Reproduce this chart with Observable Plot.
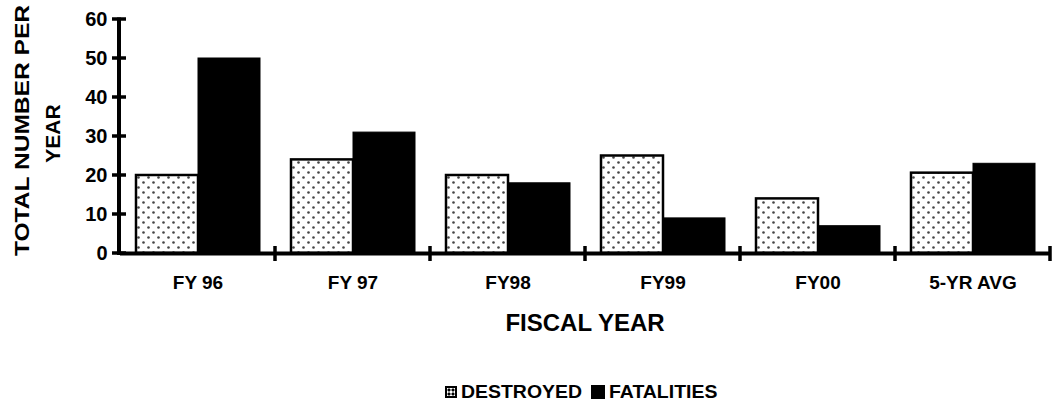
<!DOCTYPE html>
<html>
<head>
<meta charset="utf-8">
<script src="https://cdn.jsdelivr.net/npm/d3@7"></script>
<script src="https://cdn.jsdelivr.net/npm/@observablehq/plot@0.6"></script>
<style>
  html, body { margin: 0; padding: 0; background: #fff; }
  body { width: 1052px; height: 405px; position: relative; overflow: hidden;
         font-family: "Liberation Sans", Arial, sans-serif; font-weight: bold; color: #000; }
  #chart { position: absolute; left: 0; top: 0; }
  .ytitle { position: absolute; white-space: nowrap; font-size: 21px; line-height: 21px;
            transform-origin: center center; }
  #xtitle { position: absolute; left: 0; width: 1170px; top: 309px; text-align: center;
            font-size: 24px; line-height: 28px; }
  #legend { position: absolute; left: 445px; top: 383px; font-size: 18px; line-height: 18px;
            display: flex; align-items: center; white-space: nowrap; }
  .sw { width: 12px; height: 12px; display: inline-block; margin-right: 4px; box-sizing: border-box; }
</style>
</head>
<body>
<div id="chart"></div>
<div class="ytitle" id="yt1">TOTAL NUMBER PER</div>
<div class="ytitle" id="yt2">YEAR</div>
<div id="xtitle">FISCAL YEAR</div>
<div id="legend"></div>
<script>
// ---- data ----
const categories = ["FY 96", "FY 97", "FY98", "FY99", "FY00", "5-YR AVG"];
const seriesNames = ["DESTROYED", "FATALITIES"];
const destroyed = [20, 24, 20, 25, 14, 20.6];
const fatalities = [50, 31, 18, 9, 7, 23];
const yTicks = [0, 10, 20, 30, 40, 50, 60];
const yTitle = ["TOTAL NUMBER PER", "YEAR"];
const xTitle = "FISCAL YEAR";

const rows = categories.flatMap((c, i) => [
  {cat: c, series: seriesNames[0], value: destroyed[i]},
  {cat: c, series: seriesNames[1], value: fatalities[i]}
]);

const font = "'Liberation Sans', Arial, sans-serif";

const plot = Plot.plot({
  width: 1052,
  height: 365,
  marginLeft: 119,
  marginRight: 2,
  marginTop: 19,
  marginBottom: 112,
  style: {fontFamily: font, fontWeight: "bold", color: "#000", background: "transparent", overflow: "visible"},
  fx: {domain: categories, padding: 0, label: null},
  x: {domain: seriesNames, paddingInner: 0, paddingOuter: 0.25, axis: null},
  y: {domain: [0, 60], label: null},
  marks: [
    Plot.barY(rows.filter(d => d.series === seriesNames[0]), {
      fx: "cat", x: "series", y: "value",
      fill: "url(#dots)", stroke: "#000", strokeWidth: 2.5
    }),
    Plot.barY(rows.filter(d => d.series === seriesNames[1]), {
      fx: "cat", x: "series", y: "value",
      fill: "#000", stroke: "#000", strokeWidth: 1
    }),
    Plot.ruleY([0], {stroke: "#000", strokeWidth: 4}),
    Plot.axisFx({anchor: "bottom", tickSize: 0, tickPadding: 22, fontSize: 19, fontWeight: "bold", label: null}),
    Plot.axisY({ticks: yTicks, tickSize: 0, tickPadding: 13, fontSize: 20, fontWeight: "bold", label: null})
  ]
});

// pattern definition
d3.select(plot).insert("defs", ":first-child").html(
  '<pattern id="dots" width="10" height="10" patternUnits="userSpaceOnUse">' +
  '<rect width="10" height="10" fill="#fff"/>' +
  '<circle cx="2.5" cy="2.5" r="1.3" fill="#444"/>' +
  '<circle cx="7.5" cy="7.5" r="1.3" fill="#444"/>' +
  '</pattern>'
);

// axis lines and tick marks, placed from the plot's own scales
const ys = plot.scale("y");
const fxs = plot.scale("fx");
const x0 = fxs.range[0];
const g = d3.select(plot).append("g").attr("stroke", "#000").attr("stroke-linecap", "butt");
g.append("line").attr("x1", x0).attr("x2", x0)
  .attr("y1", ys.apply(yTicks[yTicks.length - 1]) - 1.5).attr("y2", ys.apply(0) + 2)
  .attr("stroke-width", 4);
for (const t of yTicks) {
  g.append("line").attr("x1", x0 - 7).attr("x2", x0 + 7)
    .attr("y1", ys.apply(t)).attr("y2", ys.apply(t)).attr("stroke-width", 3.5);
}
for (const c of categories) {
  const xb = fxs.apply(c) + fxs.bandwidth;
  g.append("line").attr("x1", xb).attr("x2", xb)
    .attr("y1", ys.apply(0) - 7).attr("y2", ys.apply(0) + 8).attr("stroke-width", 3.5);
}

document.getElementById("chart").appendChild(plot);

// titles
const yt1 = document.getElementById("yt1");
const yt2 = document.getElementById("yt2");
yt1.textContent = yTitle[0];
yt2.textContent = yTitle[1];
function placeRot(el, cx, cy, sx) {
  const w = el.offsetWidth, h = el.offsetHeight;
  el.style.left = (cx - w / 2) + "px";
  el.style.top = (cy - h / 2) + "px";
  el.style.transform = `rotate(-90deg) scaleX(${sx})`;
}
placeRot(yt1, 21, 130, 1.17);
placeRot(yt2, 52, 133, 1.0);
document.getElementById("xtitle").textContent = xTitle;

// legend
const lg = document.getElementById("legend");
seriesNames.forEach((s, i) => {
  const item = document.createElement("span");
  item.style.display = "inline-flex";
  item.style.alignItems = "center";
  const sw = document.createElement("span");
  sw.className = "sw";
  if (i === 0) {
    sw.style.border = "2px solid #000";
    sw.style.background = "radial-gradient(circle at 50% 50%, #000 0 1.3px, #fff 1.8px)";
    sw.style.backgroundSize = "4px 4px";
  } else {
    sw.style.background = "#000";
    sw.style.width = "14px"; sw.style.height = "14px";
  }
  const tx = document.createElement("span");
  tx.textContent = s;
  tx.style.display = "inline-block";
  tx.style.transform = "scaleX(1.08)";
  tx.style.transformOrigin = "left center";
  tx.style.marginRight = "18px";
  item.appendChild(sw); item.appendChild(tx);
  lg.appendChild(item);
});
</script>
</body>
</html>
